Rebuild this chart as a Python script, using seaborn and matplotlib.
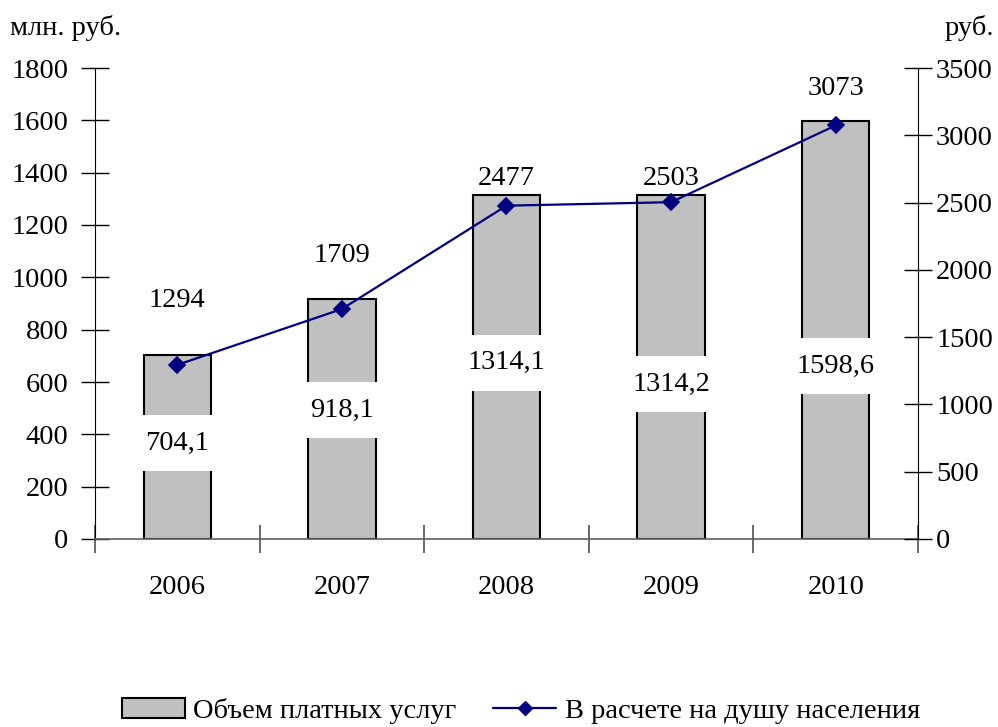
import matplotlib
matplotlib.use("Agg")
import matplotlib.pyplot as plt
from matplotlib.patches import Patch
from matplotlib.lines import Line2D
import seaborn as sns
import pandas as pd
import numpy as np

# данные
years = ["2006", "2007", "2008", "2009", "2010"]
volume = [704.1, 918.1, 1314.1, 1314.2, 1598.6]          # млн. руб.
per_capita = [1294, 1709, 2477, 2503, 3073]              # руб.
volume_text = ["704,1", "918,1", "1314,1", "1314,2", "1598,6"]

# положение подписей (в единицах осей)
volume_label_y = [367, 493, 673, 591, 661]
capita_label_y = [1776, 2110, 2680, 2680, 3351]

sns.set_style("white")
plt.rcParams["font.family"] = ["Liberation Serif", "DejaVu Serif"]
plt.rcParams["text.color"] = "black"
plt.rcParams["xtick.color"] = "black"
plt.rcParams["ytick.color"] = "black"
FS = 20.5

df = pd.DataFrame({"year": years, "volume": volume, "per_capita": per_capita})

fig = plt.figure(figsize=(9.98, 7.27), dpi=100)
ax = fig.add_axes([95 / 998, 1 - 539 / 727, (918 - 95) / 998, (539 - 68) / 727])

sns.barplot(data=df, x="year", y="volume", order=years, color="#C0C0C0",
            edgecolor="black", linewidth=1.5, width=0.41, saturation=1, ax=ax)
ax.set_xlim(-0.5, 4.5)
ax.set_ylim(0, 1800)
ax.set_yticks(np.arange(0, 1801, 200))
ax.set_xlabel("")
ax.set_ylabel("")

# подписи категорий между делениями
ax.set_xticks(np.arange(-0.5, 5, 1))
ax.set_xticklabels([])
ax.set_xticks(np.arange(len(years)), minor=True)
ax.set_xticklabels(years, minor=True, fontsize=FS)
ax.tick_params(axis="x", which="major", bottom=True, direction="inout", length=20,
               width=1.2, color="#505050")
ax.tick_params(axis="x", which="minor", bottom=True, length=0, pad=26)
ax.tick_params(axis="y", direction="inout", length=20, width=1, labelsize=FS, pad=9, left=True)

for s in ["top", "right"]:
    ax.spines[s].set_visible(False)
ax.spines["left"].set_color("black")
ax.spines["bottom"].set_color("#606060")
ax.spines["bottom"].set_linewidth(1.2)

for i, (yl, t) in enumerate(zip(volume_label_y, volume_text)):
    ax.text(i, yl, t, ha="center", va="center", fontsize=FS, zorder=5,
            bbox=dict(facecolor="white", edgecolor="none", pad=11))

ax2 = ax.twinx()
sns.pointplot(data=df, x="year", y="per_capita", order=years, color="#000080",
              markers="D", linestyles="-", markersize=8, linewidth=1.6, ax=ax2)
ax2.set_xlim(-0.5, 4.5)
ax2.set_ylim(0, 3500)
ax2.set_yticks(np.arange(0, 3501, 500))
ax2.set_ylabel("")
ax2.set_xlabel("")
ax2.tick_params(axis="y", direction="inout", length=20, width=1, labelsize=FS, pad=3, right=True)
for s in ["top", "left", "bottom"]:
    ax2.spines[s].set_visible(False)
ax2.spines["right"].set_color("black")

for i, (yl, v) in enumerate(zip(capita_label_y, per_capita)):
    ax2.text(i, yl, str(v), ha="center", va="center", fontsize=FS)

fig.text(10 / 998, 1 - 28 / 727, "млн. руб.", ha="left", va="center", fontsize=FS)
fig.text(994 / 998, 1 - 28 / 727, "руб.", ha="right", va="center", fontsize=FS)

handles = [
    Patch(facecolor="#C0C0C0", edgecolor="black", linewidth=1.5, label="Объем платных услуг"),
    Line2D([0], [0], color="#000080", marker="D", markersize=7, linewidth=1.6,
           label="В расчете на душу населения"),
]
fig.legend(handles=handles, loc="center", bbox_to_anchor=(0.522, 1 - 711 / 727), ncol=2,
           frameon=False, fontsize=FS, handlelength=2.2, handletextpad=0.3, columnspacing=1.3)

fig.savefig("out.png", dpi=100)
